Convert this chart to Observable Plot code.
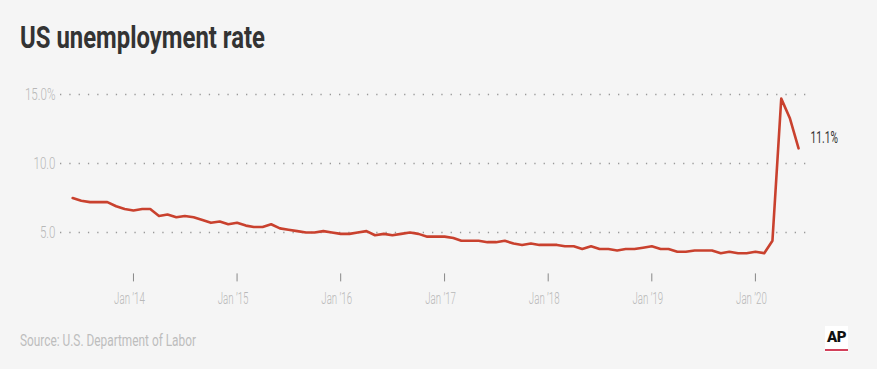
<!DOCTYPE html>
<html>
<head>
<meta charset="utf-8">
<script src="https://cdn.jsdelivr.net/npm/d3@7"></script>
<script src="https://cdn.jsdelivr.net/npm/@observablehq/plot@0.6"></script>
<style>
  html, body { margin: 0; padding: 0; background: #f5f5f5; }
  body { width: 877px; height: 369px; position: relative; overflow: hidden; font-family: Roboto, sans-serif; }
  .cond { position: absolute; white-space: nowrap; transform-origin: 0 0; line-height: 1; }
  #title { left: 20px; top: 22px; font-size: 31px; font-weight: bold; color: #333; }
  #chart { position: absolute; left: 0; top: 60px; }
  #source { left: 20px; top: 332px; font-size: 17px; color: #bdbdbd; }
  #ap { position: absolute; left: 825px; top: 326px; width: 23px; height: 26px; background: #fff; }
  #ap span { position: absolute; left: 2px; top: 4px; font-family: Roboto, sans-serif; line-height: 1;
             font-weight: 900; font-size: 15px; color: #111; letter-spacing: -0.5px; }
  #ap i { position: absolute; left: 0; bottom: 1px; width: 23px; height: 2.5px; background: #d2405a; }
</style>
</head>
<body>
<div id="title" class="cond">US unemployment rate</div>
<div id="chart"></div>
<div id="source" class="cond">Source: U.S. Department of Labor</div>
<div id="ap"><span>AP</span><i></i></div>
<script>
// Monthly unemployment rate, Jun 2013 – Jun 2020 (%)
const startYear = 2013, startMonth = 5; // June (0-based)
const rates = [
  7.5, 7.3, 7.2, 7.2, 7.2, 6.9, 6.7,                          // 2013 Jun–Dec
  6.6, 6.7, 6.7, 6.2, 6.3, 6.1, 6.2, 6.1, 5.9, 5.7, 5.8, 5.6, // 2014
  5.7, 5.5, 5.4, 5.4, 5.6, 5.3, 5.2, 5.1, 5.0, 5.0, 5.1, 5.0, // 2015
  4.9, 4.9, 5.0, 5.1, 4.8, 4.9, 4.8, 4.9, 5.0, 4.9, 4.7, 4.7, // 2016
  4.7, 4.6, 4.4, 4.4, 4.4, 4.3, 4.3, 4.4, 4.2, 4.1, 4.2, 4.1, // 2017
  4.1, 4.1, 4.0, 4.0, 3.8, 4.0, 3.8, 3.8, 3.7, 3.8, 3.8, 3.9, // 2018
  4.0, 3.8, 3.8, 3.6, 3.6, 3.7, 3.7, 3.7, 3.5, 3.6, 3.5, 3.5, // 2019
  3.6, 3.5, 4.4, 14.7, 13.3, 11.1                             // 2020 Jan–Jun
];
const yTicks = [5, 10, 15];
const yTickLabels = ["5.0", "10.0", "15.0%"];
const xTickYears = [2014, 2015, 2016, 2017, 2018, 2019, 2020];
const xTickLabels = ["Jan \u201914", "Jan \u201915", "Jan \u201916", "Jan \u201917", "Jan \u201918", "Jan \u201919", "Jan \u201920"];
const endLabel = "11.1%";

const data = rates.map((v, i) => ({ date: new Date(startYear, startMonth + i, 1), rate: v }));
const last = data[data.length - 1];
const xTickDates = xTickYears.map(y => new Date(y, 0, 1));

const chart = Plot.plot({
  width: 877,
  height: 260,
  marginLeft: 60,
  marginRight: 69,
  marginTop: 34,
  marginBottom: 46.6,
  style: { background: "transparent", fontFamily: "Roboto, sans-serif", overflow: "visible" },
  x: { type: "time", domain: [new Date(2013, 3, 19), new Date(2020, 6, 6)] },
  y: { domain: [2, 15] },
  marks: [
    Plot.gridY(yTicks, { stroke: "#999", strokeOpacity: 1, strokeWidth: 1.3, strokeDasharray: "1.3,8" }),
    Plot.axisY(yTicks, {
      tickSize: 0, tickPadding: 5, fontSize: 17, fill: "#b8b8b8", fontWeight: 300,
      tickFormat: d => yTickLabels[yTicks.indexOf(d)], label: null
    }),
    // tick marks only
    Plot.axisX(xTickDates, {
      tickSize: 8, stroke: "#888", tickFormat: () => "", label: null
    }),
    // labels only, nudged left as in the original
    Plot.axisX(xTickDates, {
      tickSize: 0, tickPadding: 18, fontSize: 17, fill: "#b8b8b8", fontWeight: 300, dx: -4,
      tickFormat: d => xTickLabels[xTickDates.findIndex(t => +t === +d)], label: null
    }),
    Plot.lineY(data, { x: "date", y: "rate", stroke: "#c9412e", strokeWidth: 2.6, curve: "linear" }),
    Plot.text([last], { x: "date", y: "rate", text: () => endLabel, dx: 12, textAnchor: "start",
      fontSize: 17, fill: "#333", dy: -11 })
  ]
});
document.getElementById("chart").appendChild(chart);

// condense text to mimic the narrow typeface
function condense(selector, ratio) {
  chart.querySelectorAll(selector).forEach(t => {
    const len = t.getComputedTextLength();
    if (len > 0) {
      t.setAttribute("textLength", (len * ratio).toFixed(2));
      t.setAttribute("lengthAdjust", "spacingAndGlyphs");
    }
  });
}
condense('g[aria-label="x-axis tick label"] text', 0.57);
condense('g[aria-label="y-axis tick label"] text', 0.68);
condense('g[aria-label="text"] text', 0.6);

function fitWidth(id, w) {
  const el = document.getElementById(id);
  const cur = el.getBoundingClientRect().width;
  el.style.transform = `scaleX(${w / cur})`;
}
fitWidth("title", 245);
fitWidth("source", 176);
</script>
</body>
</html>
